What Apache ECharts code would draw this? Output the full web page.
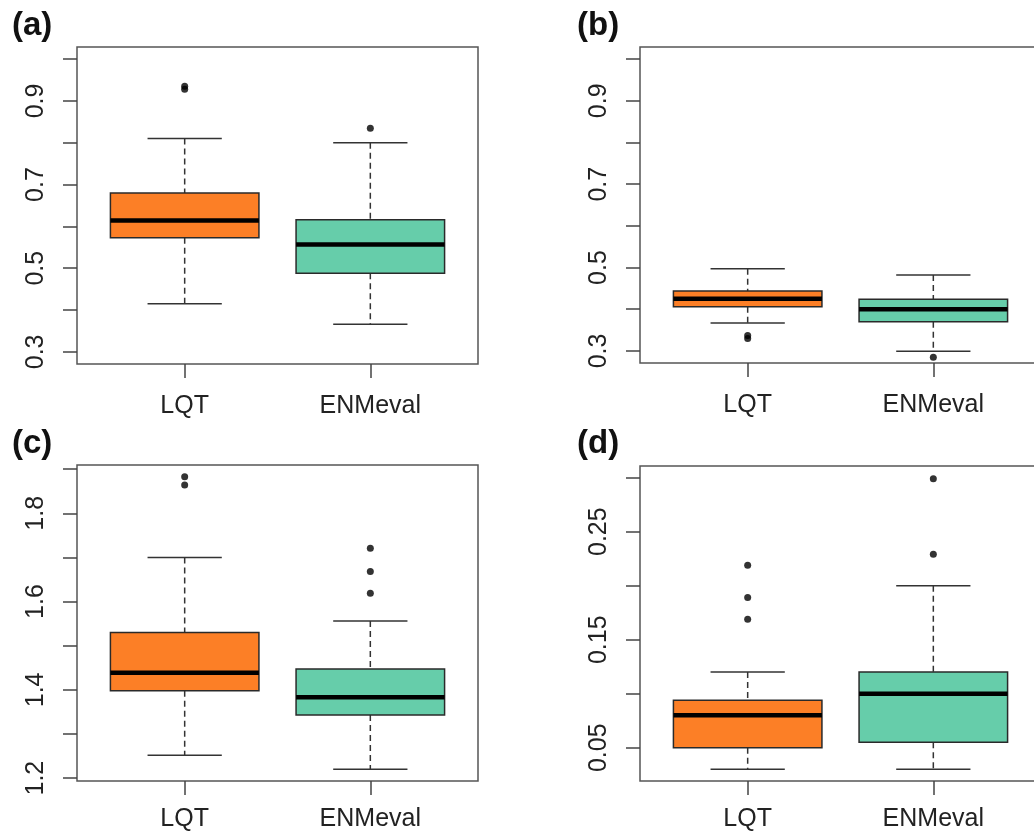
<!DOCTYPE html>
<html>
<head>
<meta charset="utf-8">
<script src="https://cdn.jsdelivr.net/npm/echarts@6/dist/echarts.min.js"></script>
<style>
  html, body { margin: 0; padding: 0; background: #fff; }
  #chart { width: 1034px; height: 832px; }
</style>
</head>
<body>
<div id="chart"></div>
<script>
// Groups on the x axis
const categories = ['LQT', 'ENMeval'];

// Box summaries per group: [lower whisker, Q1, median, Q3, upper whisker]
const statsA = [[0.415, 0.573, 0.614, 0.680, 0.810], [0.366, 0.488, 0.557, 0.616, 0.800]];
const outliersA = [[0.928, 0.935], [0.835]];

const statsB = [[0.367, 0.406, 0.425, 0.444, 0.497], [0.299, 0.370, 0.400, 0.424, 0.482]];
const outliersB = [[0.330, 0.337], [0.285]];

const statsC = [[1.252, 1.398, 1.439, 1.530, 1.700], [1.220, 1.343, 1.383, 1.447, 1.556]];
const outliersC = [[1.864, 1.883], [1.619, 1.668, 1.721]];

const statsD = [[0.030, 0.050, 0.080, 0.094, 0.120], [0.030, 0.055, 0.100, 0.120, 0.200]];
const outliersD = [[0.169, 0.189, 0.219], [0.229, 0.299]];

// Tick marks and labelled ticks on each y axis
const ticksAB = [0.3, 0.4, 0.5, 0.6, 0.7, 0.8, 0.9, 1.0];
const labelsAB = [0.3, 0.5, 0.7, 0.9];
const ticksC = [1.2, 1.3, 1.4, 1.5, 1.6, 1.7, 1.8, 1.9];
const labelsC = [1.2, 1.4, 1.6, 1.8];
const ticksD = [0.05, 0.10, 0.15, 0.20, 0.25, 0.30];
const labelsD = [0.05, 0.15, 0.25];

const panelNames = ['(a)', '(b)', '(c)', '(d)'];

const FONT = "'Liberation Sans', Arial, sans-serif";
const ORANGE = '#FC7F26';
const TEAL = '#66CDAA';
const fills = [ORANGE, TEAL];

const panels = [
  { stats: statsA, out: outliersA, ticks: ticksAB, labels: labelsAB, yMin: 0.271, yMax: 1.029,
    xMargin: 30, grid: { left: 77, top: 47, width: 401, height: 317 } },
  { stats: statsB, out: outliersB, ticks: ticksAB, labels: labelsAB, yMin: 0.271, yMax: 1.029,
    xMargin: 30, grid: { left: 640, top: 47, width: 401, height: 316 } },
  { stats: statsC, out: outliersC, ticks: ticksC, labels: labelsC, yMin: 1.1935, yMax: 1.9095,
    xMargin: 26, grid: { left: 77, top: 465, width: 401, height: 316 } },
  { stats: statsD, out: outliersD, ticks: ticksD, labels: labelsD, yMin: 0.0192, yMax: 0.3108,
    xMargin: 26, grid: { left: 640, top: 466, width: 401, height: 315 } }
];

const labelPos = [[12, 9], [577, 9], [12, 427], [577, 427]];

const grids = [], xAxes = [], yAxes = [], series = [], graphics = [];

// One decimal for tenths, two for twentieths
function fmt(v) {
  return Math.abs(v * 10 - Math.round(v * 10)) < 1e-9 ? v.toFixed(1) : v.toFixed(2);
}

panels.forEach((p, i) => {
  grids.push(Object.assign({ show: true, borderColor: '#555', borderWidth: 1.5,
    backgroundColor: 'transparent', containLabel: false, outerBoundsMode: 'none' }, p.grid));

  xAxes.push({
    type: 'value', gridIndex: i, min: 0.42, max: 2.58,
    splitLine: { show: false },
    axisLine: { show: false },
    axisTick: { show: true, length: 14, lineStyle: { color: '#444', width: 1.5 },
      customValues: [1, 2] },
    axisLabel: { show: true, customValues: [1, 2], margin: p.xMargin,
      fontFamily: FONT, fontSize: 25, color: '#222',
      formatter: v => categories[Math.round(v) - 1] || '' }
  });

  yAxes.push({
    type: 'value', gridIndex: i, min: p.yMin, max: p.yMax,
    splitLine: { show: false },
    axisLine: { show: false },
    axisTick: { show: true, length: 14, lineStyle: { color: '#444', width: 1.5 },
      customValues: p.ticks },
    axisLabel: { show: true, customValues: p.labels, rotate: 90, margin: 28,
      fontFamily: FONT, fontSize: 25, color: '#222',
      formatter: v => fmt(v) }
  });

  // Boxes, whiskers and medians drawn through the panel's own axes
  const boxData = p.stats.map((s, k) => [k + 1].concat(s));
  series.push({
    type: 'custom', xAxisIndex: i, yAxisIndex: i, clip: false, silent: true,
    data: boxData,
    renderItem: (params, api) => {
      const x = api.value(0);
      const lo = api.value(1), q1 = api.value(2), med = api.value(3), q3 = api.value(4), hi = api.value(5);
      const pt = (xx, yy) => api.coord([xx, yy]);
      const fill = fills[params.dataIndex];
      const half = 0.4, cap = 0.2;
      const tl = pt(x - half, q3), br = pt(x + half, q1);
      const whisk = { stroke: '#333', lineWidth: 1.5, lineDash: [6, 4] };
      const solid = { stroke: '#333', lineWidth: 1.5 };
      const line = (a, b, style) => ({ type: 'line',
        shape: { x1: a[0], y1: a[1], x2: b[0], y2: b[1] }, style: style });
      return {
        type: 'group',
        children: [
          line(pt(x, hi), pt(x, q3), whisk),
          line(pt(x, q1), pt(x, lo), whisk),
          line(pt(x - cap, hi), pt(x + cap, hi), solid),
          line(pt(x - cap, lo), pt(x + cap, lo), solid),
          { type: 'rect', shape: { x: tl[0], y: tl[1], width: br[0] - tl[0], height: br[1] - tl[1] },
            style: { fill: fill, stroke: '#2a2a2a', lineWidth: 1.5 } },
          line(pt(x - half, med), pt(x + half, med), { stroke: '#000', lineWidth: 4.5 })
        ]
      };
    }
  });

  // Outlying observations
  const pts = [];
  p.out.forEach((vals, k) => vals.forEach(v => pts.push([k + 1, v])));
  series.push({
    type: 'scatter', xAxisIndex: i, yAxisIndex: i, silent: true,
    symbol: 'circle', symbolSize: 7, data: pts,
    itemStyle: { color: '#000' }
  });

  graphics.push({
    type: 'text', left: labelPos[i][0], top: labelPos[i][1],
    style: { text: panelNames[i], font: 'bold 33px ' + FONT, fill: '#111' }
  });
});

const chart = echarts.init(document.getElementById('chart'), null, { renderer: 'canvas' });
chart.setOption({
  animation: false,
  backgroundColor: '#fff',
  grid: grids,
  xAxis: xAxes,
  yAxis: yAxes,
  series: series,
  graphic: graphics
});
</script>
</body>
</html>
